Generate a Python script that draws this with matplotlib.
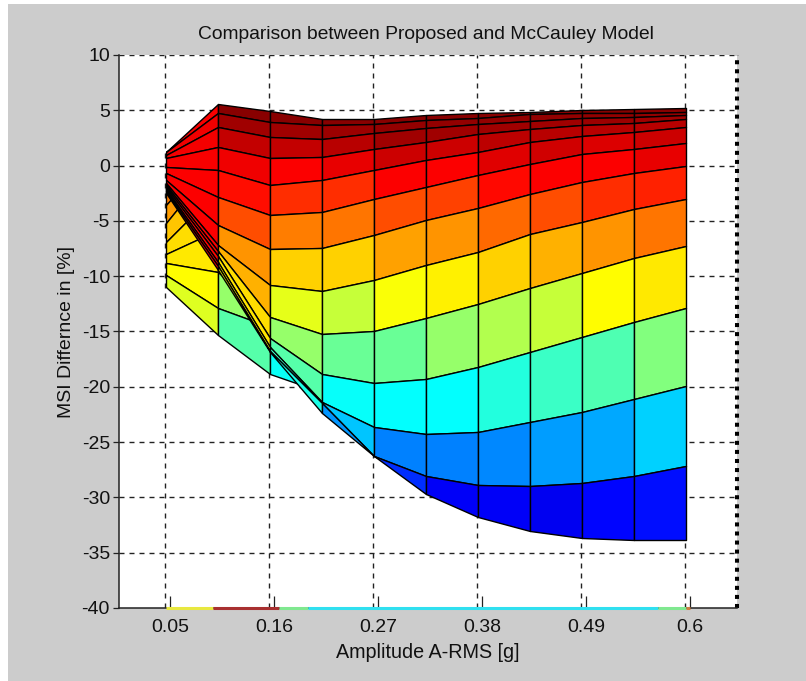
import numpy as np
from matplotlib import pyplot as plt
from matplotlib.colors import LinearSegmentedColormap
from matplotlib.patches import Rectangle

plt.rcParams['font.family'] = ['Liberation Sans', 'DejaVu Sans']
plt.rcParams['axes.unicode_minus'] = False

amp = [0.05, 0.105, 0.16, 0.215, 0.27, 0.325, 0.38, 0.435, 0.49, 0.545, 0.6]

# main sheet of the surface, one list per mesh line, top to bottom
z_main = [
    [1.25, 5.55, 4.98, 4.2, 4.18, 4.58, 4.73, 4.88, 5.03, 5.09, 5.2],
    [1.2, 4.74, 3.98, 3.7, 3.76, 4.13, 4.28, 4.67, 4.73, 4.79, 4.88],
    [0.95, 3.53, 2.6, 2.45, 2.92, 3.37, 3.76, 4.06, 4.28, 4.37, 4.55],
    [0.65, 1.72, 0.66, 0.8, 1.47, 2.16, 2.83, 3.28, 3.67, 3.82, 4.19],
    [-0.1, -0.39, -1.75, -1.3, -0.4, 0.5, 1.26, 2.1, 2.68, 3.07, 3.52],
    [-0.7, -2.8, -4.46, -4.17, -3.02, -1.97, -0.85, 0.14, 1.05, 1.5, 2.01],
    [-1.3, -5.37, -7.57, -7.43, -6.28, -4.92, -3.81, -2.6, -1.46, -0.64, 0],
    [-1.6, -7.2, -10.8, -11.3, -10.35, -9, -7.79, -6.22, -5.08, -3.93, -3.02],
    [-1.75, -7.7, -13.66, -15.2, -14.97, -13.82, -12.53, -11.1, -9.69, -8.33, -7.25],
    [-1.95, -8.2, -15.6, -18.8, -19.7, -19.33, -18.2, -16.87, -15.5, -14.12, -12.92],
    [-2.1, -8.7, -16.4, -21.35, -23.6, -24.28, -24.06, -23.2, -22.26, -21.06, -19.9],
    [-2.3, -9.1, -16.8, -21.5, -26.25, -28.08, -28.89, -28.95, -28.74, -28.05, -27.2],
    [-2.5, -9.4, -16.85, -22.35, -26.27, -29.65, -31.76, -33, -33.7, -33.87, -33.87],
]
c_main = [
    [0.88, 0.99, 0.99, 0.99, 0.99, 0.99, 0.99, 0.99, 0.99, 0.99],
    [0.89, 0.965, 0.965, 0.97, 0.98, 0.98, 0.98, 0.98, 0.98, 0.98],
    [0.885, 0.93, 0.93, 0.945, 0.965, 0.965, 0.965, 0.965, 0.97, 0.965],
    [0.88, 0.89, 0.875, 0.895, 0.925, 0.925, 0.94, 0.945, 0.945, 0.945],
    [0.875, 0.86, 0.83, 0.83, 0.875, 0.875, 0.905, 0.92, 0.91, 0.925],
    [0.875, 0.80, 0.75, 0.76, 0.80, 0.81, 0.865, 0.875, 0.875, 0.895],
    [0.875, 0.73, 0.67, 0.67, 0.715, 0.73, 0.77, 0.80, 0.83, 0.84],
    [0.875, 0.70, 0.60, 0.57, 0.62, 0.64, 0.67, 0.70, 0.73, 0.76],
    [0.87, 0.66, 0.52, 0.48, 0.48, 0.52, 0.55, 0.57, 0.625, 0.645],
    [0.87, 0.65, 0.46, 0.38, 0.375, 0.375, 0.41, 0.43, 0.45, 0.50],
    [0.88, 0.64, 0.43, 0.32, 0.25, 0.25, 0.26, 0.28, 0.29, 0.33],
    [0.88, 0.62, 0.40, 0.27, 0.17, 0.12, 0.12, 0.11, 0.13, 0.14],
]

# back sheet at low amplitude, mostly covered by the main sheet
amp_back = [0.05, 0.105, 0.16, 0.215]
z_back = [
    [-1.9, 3.0, -7, -13],
    [-3.6, 1.8, -8, -14],
    [-5.2, 0.63, -9, -15],
    [-6.9, -2.2, -10, -15.5],
    [-8.0, -5.8, -11, -16],
    [-8.8, -9.65, -14, -17],
    [-9.9, -12.9, -14.6, -18],
    [-10.95, -15.3, -18.8, -20.5],
]
c_back = [
    [0.75, 0.75, 0.75],
    [0.72, 0.72, 0.72],
    [0.68, 0.68, 0.68],
    [0.66, 0.66, 0.66],
    [0.645, 0.645, 0.645],
    [0.625, 0.52, 0.52],
    [0.59, 0.46, 0.385],
]

# colours the surface leaves on the floor of the box
floor_edges = [0.05, 0.1, 0.17, 0.2, 0.57, 0.6, 0.604]
floor_colors = ['#e8e840', '#a83030', '#80e890', '#30e0f0', '#80e890', '#d08040']

tick_vals = np.array([0.05, 0.16, 0.27, 0.38, 0.49, 0.6])
tick_labels = ['0.05', '0.16', '0.27', '0.38', '0.49', '0.6']
y_vals = list(range(-40, 11, 5))

jet64 = LinearSegmentedColormap.from_list('jet64', [
    (0, (0, 0, 0.56)), (0.125, (0, 0, 1)), (0.375, (0, 1, 1)),
    (0.625, (1, 1, 0)), (0.875, (1, 0, 0)), (1, (0.5, 0, 0))], N=256)

fig = plt.figure(figsize=(8.06, 6.81), dpi=100, facecolor='white')
fig.add_artist(Rectangle((8 / 806, 0), 798 / 806, 677 / 681, transform=fig.transFigure,
                         facecolor='#cccccc', edgecolor='none', zorder=-10))
ax = fig.add_axes([119 / 806, 73 / 681, 618 / 806, 553 / 681])
ax.set_xlim(0.0003, 0.6539)
ax.set_ylim(-40, 10)

gc = '#222222'
ax.hlines(y_vals[1:], 0.0003, 0.6539, colors=gc, linestyles=(0, (3.6, 3.6)), lw=1.0, zorder=1)
ax.vlines(tick_vals - 0.0015, -40, 10, colors=gc, linestyles=(0, (3.6, 3.6)), lw=1.0, zorder=1)

for m, zz, cc, zo in [(amp_back, z_back, c_back, 2), (amp, z_main, c_main, 3)]:
    xx = np.tile(m, (len(zz), 1))
    ax.pcolormesh(xx, np.array(zz), np.array(cc), cmap=jet64, vmin=0, vmax=1,
                  shading='flat', edgecolors='black', linewidth=1.0, antialiased=True, zorder=zo)

for i in range(len(floor_colors)):
    ax.plot(floor_edges[i:i + 2], [-40, -40], color=floor_colors[i], lw=2.2,
            solid_capstyle='butt', zorder=6, clip_on=False)

ax.set_xticks(tick_vals + 0.004, tick_labels)
ax.set_yticks(y_vals)
ax.tick_params(axis='x', direction='in', length=8.5, width=0.9, color='#222222',
               labelsize=14, pad=8, labelcolor='#111111')
ax.tick_params(axis='y', direction='out', length=4.5, width=0.9, color='#222222',
               labelsize=14, pad=2, labelcolor='#111111')

ax.spines['top'].set_visible(False)
ax.spines['left'].set_linewidth(1.1)
ax.spines['bottom'].set_linewidth(1.1)
ax.spines['left'].set_color('#222222')
ax.spines['bottom'].set_color('#222222')
ax.spines['right'].set_color('black')
ax.spines['right'].set_linewidth(2.9)
ax.spines['right'].set_linestyle((0, (1, 1.25)))
ax.spines['right'].set_capstyle('butt')

ax.set_title('Comparison between Proposed and McCauley Model', fontsize=13.9,
             color='#111111', x=(426 - 119) / 618, pad=11.5)
ax.set_xlabel('Amplitude A-RMS [g]', fontsize=14.2, color='#111111', x=(428 - 119) / 618, labelpad=5)
ax.set_ylabel('MSI Differnce in [%]', fontsize=14, color='#111111', labelpad=4.5)

plt.savefig('out.png', dpi=100, facecolor=fig.get_facecolor())
